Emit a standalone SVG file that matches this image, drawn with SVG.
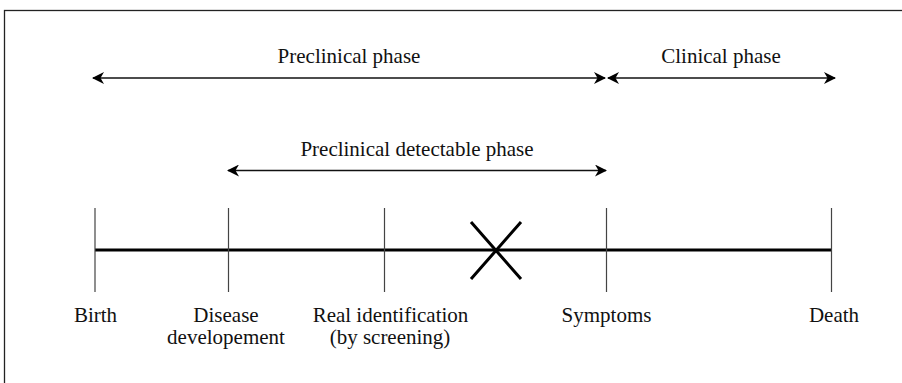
<svg xmlns="http://www.w3.org/2000/svg" width="902" height="383" viewBox="0 0 902 383">
<style>
text{font-family:"Liberation Serif","Times New Roman",serif;font-size:21px;fill:#111;text-anchor:middle}
.arr{stroke:#111;stroke-width:1.4;fill:none;marker-start:url(#ah);marker-end:url(#ah)}
.tick{stroke:#444;stroke-width:1.2}
</style>
<defs>
<marker id="ah" viewBox="0 0 12 12" refX="11" refY="6" markerWidth="12" markerHeight="12" markerUnits="userSpaceOnUse" orient="auto-start-reverse">
<path d="M0,0 L12,6 L0,12 L3.5,6 z" fill="#000"/>
</marker>
</defs>
<rect x="4.5" y="10.5" width="920" height="400" fill="#fff" stroke="#222" stroke-width="1.3"/>
<g id="connectors">
<line class="arr" x1="93" y1="78" x2="605" y2="78"/>
<line class="arr" x1="608" y1="78" x2="835" y2="78"/>
<line class="arr" x1="228" y1="170.5" x2="606" y2="170.5"/>
<line x1="95" y1="250" x2="832" y2="250" stroke="#000" stroke-width="3"/>
</g>
<g id="phase-preclinical"><text x="349" y="63">Preclinical phase</text></g>
<g id="phase-clinical"><text x="721" y="63">Clinical phase</text></g>
<g id="phase-detectable"><text x="417" y="156">Preclinical detectable phase</text></g>
<g id="birth"><line class="tick" x1="95" y1="208" x2="95" y2="292"/><text x="95.5" y="322">Birth</text></g>
<g id="disease"><line class="tick" x1="228.5" y1="208" x2="228.5" y2="292"/><text x="226" y="322">Disease</text><text x="226" y="344">developement</text></g>
<g id="real-identification"><line class="tick" x1="384.5" y1="208" x2="384.5" y2="292"/><text x="390.5" y="322">Real identification</text><text x="390" y="344">(by screening)</text></g>
<g id="cross"><path d="M471,222 L521,279 M521,222 L471,279" stroke="#000" stroke-width="3" fill="none"/></g>
<g id="symptoms"><line class="tick" x1="606.5" y1="208" x2="606.5" y2="292"/><text x="606.5" y="322">Symptoms</text></g>
<g id="death"><line class="tick" x1="831.5" y1="208" x2="831.5" y2="292"/><text x="834" y="322">Death</text></g>
</svg>
